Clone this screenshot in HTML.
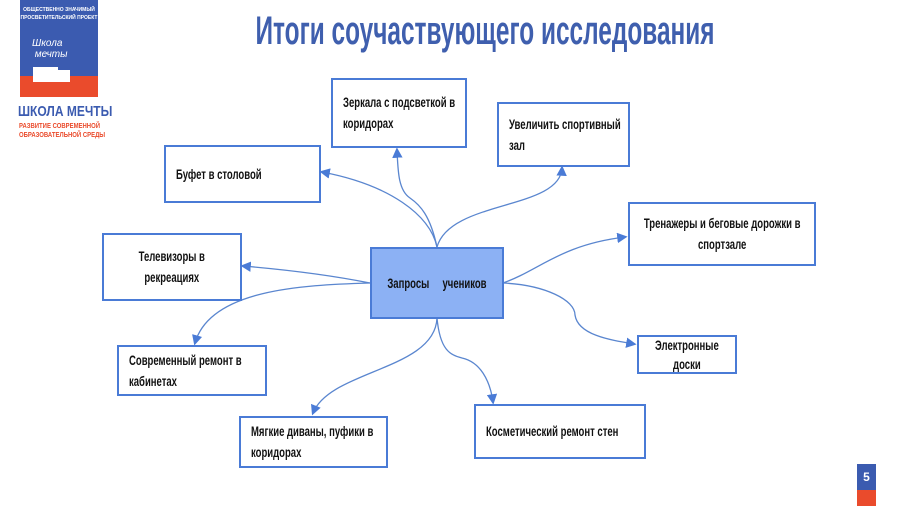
<!DOCTYPE html>
<html><head><meta charset="utf-8"><style>
*{margin:0;padding:0;box-sizing:border-box}
body{width:900px;height:506px;background:#fff;position:relative;overflow:hidden;font-family:"Liberation Sans","DejaVu Sans",sans-serif}
.b{position:absolute;border:2.5px solid #4a7bd6;background:#fff;font-weight:bold;font-size:14px;color:#111;line-height:21px;padding:0 10px;display:flex;align-items:center}
.b span{display:inline-block;white-space:nowrap;transform:scaleX(0.68);transform-origin:left center}
.c{justify-content:center;text-align:center}
.c span{transform-origin:center center}
.t{position:absolute;left:0;top:9px;width:970px;text-align:center;font-size:40px;font-weight:bold;color:#3f5fae;white-space:nowrap;transform:scaleX(0.61);transform-origin:center}
</style></head><body>
<div style="position:absolute;left:20px;top:0;width:78px;height:97px;background:#3b5bb0"></div>
<div style="position:absolute;left:20px;top:76px;width:78px;height:21px;background:#ea4b2c"></div>
<div style="position:absolute;left:33px;top:67px;width:25px;height:15px;background:#fff"></div>
<div style="position:absolute;left:58px;top:70px;width:12px;height:12px;background:#fff"></div>
<div style="position:absolute;left:20px;top:6px;width:78px;text-align:center;color:#fff;font-size:5px;font-weight:bold;line-height:8px;white-space:nowrap">ОБЩЕСТВЕННО ЗНАЧИМЫЙ<br>ПРОСВЕТИТЕЛЬСКИЙ ПРОЕКТ</div>
<div style="position:absolute;left:32px;top:38px;color:#fff;font-size:10px;font-style:italic;line-height:11px">Школа<br>&nbsp;мечты</div>
<div style="position:absolute;left:18px;top:103px;color:#3b5bb0;font-size:15px;font-weight:bold;white-space:nowrap;transform:scaleX(0.8);transform-origin:left">ШКОЛА МЕЧТЫ</div>
<div style="position:absolute;left:19px;top:122px;color:#ea4b2c;font-size:7px;font-weight:bold;line-height:9px;white-space:nowrap;transform:scaleX(0.85);transform-origin:left">РАЗВИТИЕ СОВРЕМЕННОЙ<br>ОБРАЗОВАТЕЛЬНОЙ СРЕДЫ</div>
<div class="t">Итоги соучаствующего исследования</div>
<svg width="900" height="506" style="position:absolute;left:0;top:0">
<defs><marker id="a" markerWidth="8" markerHeight="8" refX="6" refY="4" orient="auto"><path d="M0,0 L8,4 L0,8 z" fill="#4a7bd6"/></marker></defs>
<g fill="none" stroke="#5a86cf" stroke-width="1.3" marker-end="url(#a)">
<path d="M437,247 C430,215 390,185 322,172"/>
<path d="M437,247 C430,215 420,205 410,198 C398,190 398,170 397,150"/>
<path d="M437,247 C450,200 560,210 562,168"/>
<path d="M503,283 C540,270 560,245 625,237"/>
<path d="M370,283 C330,275 290,270 243,266"/>
<path d="M370,283 C300,285 210,290 195,343"/>
<path d="M503,283 C545,285 575,300 575,315 C578,335 610,340 634,344"/>
<path d="M437,318 C435,370 330,370 313,413"/>
<path d="M437,318 C440,350 450,355 462,358 C480,362 490,380 493,402"/>
</g></svg>
<div class="b c" style="left:370px;top:247px;width:134px;height:72px;background:#8cb1f4"><span>Запросы&nbsp;&nbsp;&nbsp;&nbsp;&nbsp;учеников</span></div>
<div class="b" style="left:331px;top:78px;width:136px;height:70px"><span>Зеркала с подсветкой в<br>коридорах</span></div>
<div class="b" style="left:497px;top:102px;width:133px;height:65px"><span>Увеличить спортивный<br>зал</span></div>
<div class="b" style="left:164px;top:145px;width:157px;height:58px"><span>Буфет в столовой</span></div>
<div class="b c" style="left:628px;top:202px;width:188px;height:64px"><span>Тренажеры и беговые дорожки в<br>спортзале</span></div>
<div class="b c" style="left:102px;top:233px;width:140px;height:68px"><span>Телевизоры в<br>рекреациях</span></div>
<div class="b c" style="left:637px;top:335px;width:100px;height:39px;line-height:19px"><span>Электронные<br>доски</span></div>
<div class="b" style="left:117px;top:345px;width:150px;height:51px"><span>Современный ремонт в<br>кабинетах</span></div>
<div class="b" style="left:239px;top:416px;width:149px;height:52px"><span>Мягкие диваны, пуфики в<br>коридорах</span></div>
<div class="b" style="left:474px;top:404px;width:172px;height:55px"><span>Косметический ремонт стен</span></div>
<div style="position:absolute;left:857px;top:464px;width:19px;height:26px;background:#3b5bb0;color:#fff;font-size:12px;font-weight:bold;text-align:center;line-height:26px">5</div>
<div style="position:absolute;left:857px;top:490px;width:19px;height:16px;background:#ea4b2c"></div>
</body></html>
